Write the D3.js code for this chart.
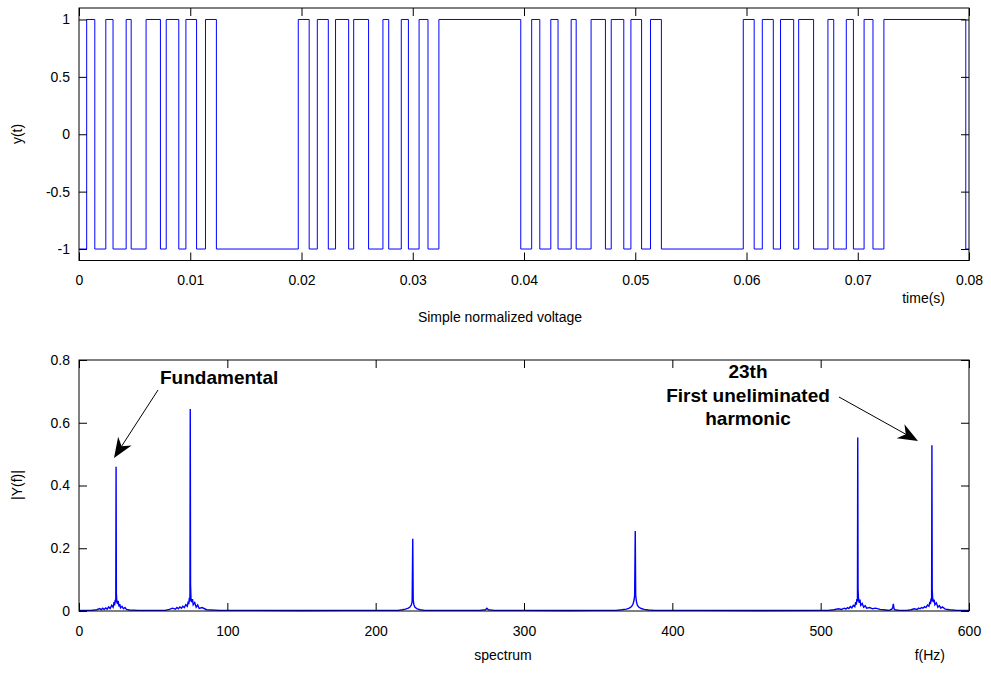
<!DOCTYPE html>
<html>
<head>
<meta charset="utf-8">
<script src="https://cdn.jsdelivr.net/npm/d3@7"></script>
<style>
  body { margin: 0; background: #fff; }
  text { font-family: "Liberation Sans", Arial, sans-serif; }
</style>
</head>
<body>
<script>
const w = 991;
const h = 675;

// switching instants of the PWM waveform (s), level starts at -1 and toggles at each one
const edges = [
  0.00069, 0.00142, 0.00241, 0.00306, 0.00424, 0.00469, 0.00603, 0.00732,
  0.00784, 0.00897, 0.00961, 0.01057, 0.01137, 0.01235, 0.01971,
  0.02069, 0.02142, 0.02241, 0.02306, 0.02424, 0.02469, 0.02603, 0.02732,
  0.02784, 0.02897, 0.02961, 0.03057, 0.03137, 0.03235, 0.03971,
  0.04069, 0.04142, 0.04241, 0.04306, 0.04424, 0.04469, 0.04603, 0.04732,
  0.04784, 0.04897, 0.04961, 0.05057, 0.05137, 0.05235, 0.05971,
  0.06069, 0.06142, 0.06241, 0.06306, 0.06424, 0.06469, 0.06603, 0.06732,
  0.06784, 0.06897, 0.06961, 0.07057, 0.07137, 0.07235, 0.07971
];
const startLevel = -1;

const timeTicks = [0, 0.01, 0.02, 0.03, 0.04, 0.05, 0.06, 0.07, 0.08];
const levelTicks = [-1, -0.5, 0, 0.5, 1];

// spectrum |Y(f)|
const specHz = [
  0, 8, 12, 14, 15, 16, 17, 18, 19, 20, 21, 22, 23, 23.6, 24, 24.4, 24.8, 25, 25.2, 25.5,
  26, 26.4, 27, 27.5, 28, 29, 30, 31, 32, 34, 40,
  58, 61, 63, 65, 66, 67, 68, 69, 70, 71, 72, 73, 73.6, 74, 74.4, 74.8, 75, 75.2, 75.5,
  76, 76.5, 77, 78, 79, 80, 81, 83, 86, 95,
  120, 150, 180, 200,
  215, 218, 220, 222, 223, 224, 224.6, 225, 225.3, 225.8, 226.5, 228, 230, 233,
  250, 270, 274, 275, 276, 280, 300, 330, 350,
  362, 366, 369, 371, 372.5, 373.5, 374.2, 374.6, 375, 375.3, 375.8, 376.5, 377.5, 379, 381, 384, 388,
  420, 460, 500,
  505, 509, 512, 514, 516, 517, 518, 519, 520, 521, 522, 523, 523.6, 524, 524.4, 524.8, 525, 525.2, 525.5,
  526, 526.5, 527, 528, 529, 530, 531, 533, 535, 537, 540, 544,
  546, 548, 548.6, 549, 549.4, 550, 553,
  558, 561, 563, 565, 566, 567, 568, 569, 570, 571, 572, 573, 573.6, 574, 574.4, 574.8, 575, 575.2, 575.5,
  576, 576.5, 577, 578, 579, 580, 581, 582, 584, 587, 592, 600
];
const specMag = [
  0.002, 0.002, 0.004, 0.008, 0.004, 0.009, 0.005, 0.01, 0.006, 0.013, 0.008, 0.018, 0.012, 0.028, 0.018, 0.036, 0.028, 0.46, 0.056, 0.03,
  0.022, 0.032, 0.014, 0.022, 0.01, 0.015, 0.007, 0.011, 0.005, 0.003, 0.002,
  0.002, 0.005, 0.009, 0.006, 0.011, 0.007, 0.013, 0.009, 0.015, 0.011, 0.02, 0.015, 0.03, 0.022, 0.042, 0.03, 0.644, 0.085, 0.04,
  0.028, 0.038, 0.02, 0.027, 0.012, 0.019, 0.008, 0.011, 0.004, 0.002,
  0.002, 0.0015, 0.002, 0.002,
  0.002, 0.004, 0.006, 0.009, 0.012, 0.019, 0.03, 0.23, 0.035, 0.02, 0.012, 0.007, 0.004, 0.002,
  0.002, 0.002, 0.004, 0.009, 0.004, 0.002, 0.002, 0.0015, 0.002,
  0.002, 0.004, 0.006, 0.009, 0.014, 0.022, 0.035, 0.05, 0.255, 0.05, 0.03, 0.018, 0.012, 0.008, 0.005, 0.003, 0.002,
  0.002, 0.0015, 0.002,
  0.002, 0.004, 0.007, 0.005, 0.009, 0.006, 0.011, 0.008, 0.014, 0.01, 0.018, 0.014, 0.028, 0.02, 0.038, 0.03, 0.553, 0.07, 0.04,
  0.026, 0.036, 0.018, 0.024, 0.012, 0.017, 0.009, 0.011, 0.007, 0.009, 0.005, 0.003,
  0.002, 0.006, 0.012, 0.023, 0.008, 0.004, 0.002,
  0.002, 0.004, 0.007, 0.005, 0.009, 0.007, 0.011, 0.009, 0.014, 0.011, 0.019, 0.015, 0.029, 0.022, 0.04, 0.03, 0.528, 0.068, 0.04,
  0.028, 0.036, 0.02, 0.026, 0.012, 0.017, 0.009, 0.013, 0.006, 0.004, 0.002, 0.002
];

const freqTicks = [0, 100, 200, 300, 400, 500, 600];
const magTicks = [0, 0.2, 0.4, 0.6, 0.8];

const svg = d3.select('body')
  .append('svg')
  .attr('width', w)
  .attr('height', h);

const left = 79, right = 969;
const tickLen = 8;

function box(x, y) {
  const [y0, y1] = y.range();
  const [x0, x1] = x.range();
  const g = svg.append('g');

  g.append('g')
    .attr('transform', `translate(0,${y0})`)
    .call(d3.axisBottom(x).tickValues(x.tv).tickSizeInner(-tickLen).tickSizeOuter(0)
      .tickPadding(15).tickFormat(d => String(d)));
  g.append('g')
    .attr('transform', `translate(0,${y1})`)
    .call(d3.axisTop(x).tickValues(x.tv).tickSizeInner(-tickLen).tickSizeOuter(0)
      .tickFormat(''));
  g.append('g')
    .attr('transform', `translate(${x0},0)`)
    .call(d3.axisLeft(y).tickValues(y.tv).tickSizeInner(-tickLen).tickSizeOuter(0)
      .tickPadding(9).tickFormat(d => String(d)));
  g.append('g')
    .attr('transform', `translate(${x1},0)`)
    .call(d3.axisRight(y).tickValues(y.tv).tickSizeInner(-tickLen).tickSizeOuter(0)
      .tickFormat(''));

  g.selectAll('.domain').remove();
  g.selectAll('.tick line').attr('stroke', '#000');
  g.selectAll('.tick text')
    .attr('fill', '#000')
    .style('font-size', '14px')
    .style('font-family', '"Liberation Sans", Arial, sans-serif');

  g.append('rect')
    .attr('x', x0)
    .attr('y', y1)
    .attr('width', x1 - x0)
    .attr('height', y0 - y1)
    .attr('fill', 'none')
    .attr('stroke', '#000')
    .attr('stroke-width', 1);
  return g;
}

// ---- top: time waveform ----
const xTime = d3.scaleLinear().domain([0, 0.08]).range([left, right]);
xTime.tv = timeTicks;
const yLevel = d3.scaleLinear().domain([-1.1, 1.1]).range([260.5, 8]);
yLevel.tv = levelTicks;

let level = startLevel;
const steps = [{ t: 0, v: level }];
for (let e of edges) {
  level = -level;
  steps.push({ t: e, v: level });
}
steps.push({ t: 0.08, v: level });

svg.append('path')
  .datum(steps)
  .attr('fill', 'none')
  .attr('stroke', '#0000ff')
  .attr('stroke-width', 1)
  .attr('d', d3.line()
    .curve(d3.curveStepAfter)
    .x(d => xTime(d.t))
    .y(d => yLevel(d.v)));

box(xTime, yLevel);

svg.append('text')
  .attr('transform', 'translate(22,134) rotate(-90)')
  .attr('text-anchor', 'middle')
  .style('font-size', '14px')
  .text('y(t)');

svg.append('text')
  .attr('x', 945)
  .attr('y', 303)
  .attr('text-anchor', 'end')
  .style('font-size', '14px')
  .text('time(s)');

svg.append('text')
  .attr('x', 500)
  .attr('y', 322)
  .attr('text-anchor', 'middle')
  .style('font-size', '14px')
  .text('Simple normalized voltage');

// ---- bottom: spectrum ----
const xFreq = d3.scaleLinear().domain([0, 600]).range([left, right]);
xFreq.tv = freqTicks;
const yMag = d3.scaleLinear().domain([0, 0.8]).range([611, 360]);
yMag.tv = magTicks;

svg.append('path')
  .datum(specHz.map((f, i) => [f, specMag[i]]))
  .attr('fill', 'none')
  .attr('stroke', '#0000ff')
  .attr('stroke-width', 1.4)
  .attr('d', d3.line()
    .x(d => xFreq(d[0]))
    .y(d => yMag(d[1])));

box(xFreq, yMag);

svg.append('text')
  .attr('transform', 'translate(22,485) rotate(-90)')
  .attr('text-anchor', 'middle')
  .style('font-size', '14px')
  .text('|Y(f)|');

svg.append('text')
  .attr('x', 945)
  .attr('y', 660)
  .attr('text-anchor', 'end')
  .style('font-size', '14px')
  .text('f(Hz)');

svg.append('text')
  .attr('x', 503)
  .attr('y', 660)
  .attr('text-anchor', 'middle')
  .style('font-size', '14px')
  .text('spectrum');

// annotations
function arrow(x1, y1, x2, y2) {
  const a = Math.atan2(y2 - y1, x2 - x1);
  const L = 20, hw = 8, notch = 14;
  const pt = (d, s) => [
    x2 - d * Math.cos(a) - s * Math.sin(a),
    y2 - d * Math.sin(a) + s * Math.cos(a)
  ];
  svg.append('line')
    .attr('x1', x1).attr('y1', y1)
    .attr('x2', pt(notch, 0)[0]).attr('y2', pt(notch, 0)[1])
    .attr('stroke', '#000')
    .attr('stroke-width', 1);
  svg.append('path')
    .attr('d', 'M' + [[x2, y2], pt(L, hw), pt(notch, 0), pt(L, -hw)].join('L') + 'Z')
    .attr('fill', '#000');
}

svg.append('text')
  .attr('x', 160)
  .attr('y', 384)
  .style('font-size', '19px')
  .style('font-weight', 'bold')
  .text('Fundamental');
arrow(158, 390, 114, 458);

const noteLines = ['23th', 'First uneliminated', 'harmonic'];
svg.selectAll('text.note')
  .data(noteLines)
  .enter()
  .append('text')
  .attr('class', 'note')
  .attr('x', 748)
  .attr('y', (d, i) => 378 + i * 23.7)
  .attr('text-anchor', 'middle')
  .style('font-size', '19px')
  .style('font-weight', 'bold')
  .text(d => d);
arrow(839, 397, 918, 441);
</script>
</body>
</html>
